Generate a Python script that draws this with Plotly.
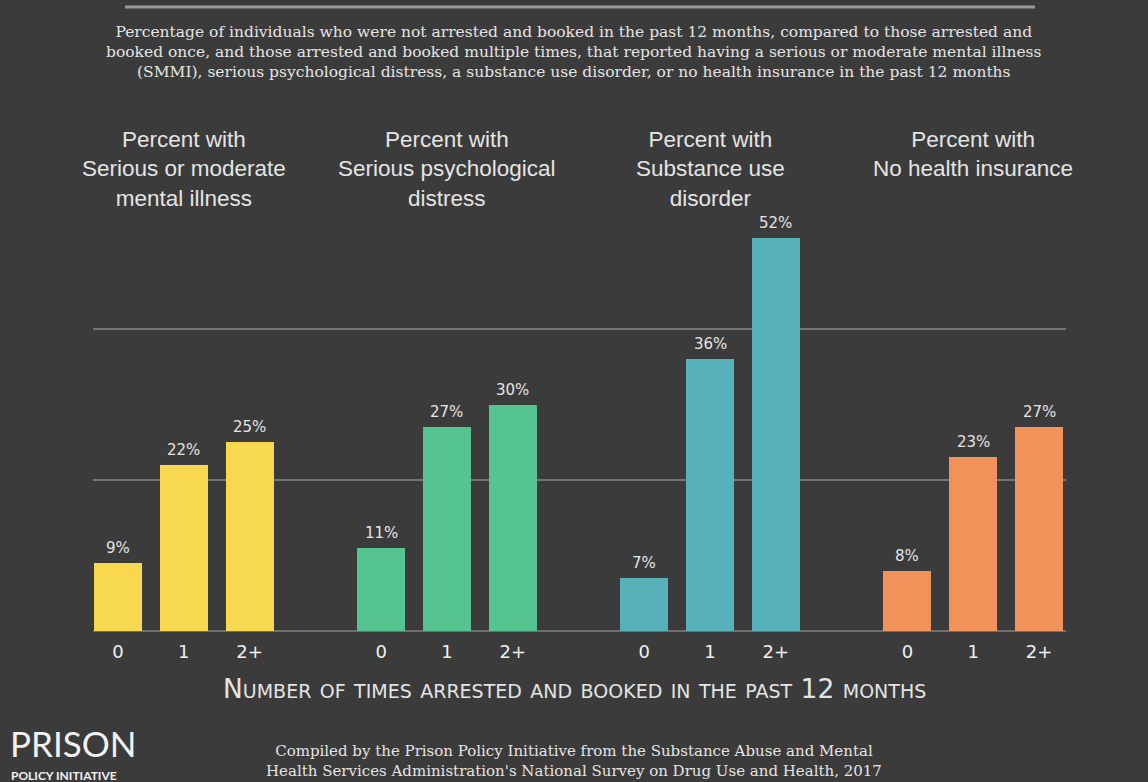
import plotly.graph_objects as go

# Survey measures, arrest counts and shares (percent)
measures = [
    "Percent with<br>Serious or moderate<br>mental illness",
    "Percent with<br>Serious psychological<br>distress",
    "Percent with<br>Substance use<br>disorder",
    "Percent with<br>No health insurance",
]
arrest_counts = ["0", "1", "2+"]
smmi = [9, 22, 25]
distress = [11, 27, 30]
substance = [7, 36, 52]
uninsured = [8, 23, 27]
colors = ["#f8d84f", "#55c490", "#57b1ba", "#f1925a"]

series = [smmi, distress, substance, uninsured]

BG = "#3b3b3b"
TEXT = "#e4e4e4"
W, H = 1148, 782


def py(pixel_y):
    """Paper y for a pixel row measured from the top."""
    return (H - pixel_y) / H


fig = go.Figure()
annotations = []
tickvals, ticktext = [], []

for g, (vals, col, name) in enumerate(zip(series, colors, measures)):
    xs = [4 * g + i for i in range(len(vals))]
    fig.add_trace(go.Bar(
        x=xs, y=vals, width=0.73, marker=dict(color=col, line=dict(width=0)),
        showlegend=False, hoverinfo="skip",
    ))
    for x, v in zip(xs, vals):
        annotations.append(dict(
            x=x, y=v, xref="x", yref="y", text=f"{v}%", showarrow=False,
            yanchor="bottom", yshift=4,
            font=dict(family="DejaVu Sans", size=15, color=TEXT),
        ))
    tickvals += xs
    ticktext += arrest_counts
    annotations.append(dict(
        x=4 * g + 1, y=py(125), xref="x", yref="paper", text=name, showarrow=False,
        yanchor="top", align="center",
        font=dict(family="Liberation Sans", size=22.5, color=TEXT),
    ))

title_text = (
    "Percentage of individuals who were not arrested and booked in the past 12 months, compared to those arrested and<br>"
    "booked once, and those arrested and booked multiple times, that reported having a serious or moderate mental illness<br>"
    "(SMMI), serious psychological distress, a substance use disorder, or no health insurance in the past 12 months"
)
annotations.append(dict(
    x=0.5, y=py(52), xref="paper", yref="paper", text=title_text,
    showarrow=False, yanchor="middle", align="center",
    font=dict(family="DejaVu Serif", size=15.5, color=TEXT),
))

annotations.append(dict(
    x=0.5, y=py(688), xref="paper", yref="paper",
    text="Number of times arrested and booked in the past 12 months",
    showarrow=False, yanchor="middle",
    font=dict(family="DejaVu Sans", size=26.5, color=TEXT, variant="small-caps"),
))

annotations.append(dict(
    x=0.5, y=py(761), xref="paper", yref="paper",
    text=("Compiled by the Prison Policy Initiative from the Substance Abuse and Mental<br>"
          "Health Services Administration's National Survey on Drug Use and Health, 2017"),
    showarrow=False, yanchor="middle", align="center",
    font=dict(family="DejaVu Serif", size=15, color=TEXT),
))

# Publisher mark
annotations.append(dict(
    x=8 / W, y=py(766), xref="paper", yref="paper", text="PRISON",
    showarrow=False, xanchor="left", yanchor="bottom",
    font=dict(family="Lato", size=35, color="#f2f2f2"),
))
annotations.append(dict(
    x=9 / W, y=py(766), xref="paper", yref="paper",
    text="<b>POLICY INITIATIVE</b>",
    showarrow=False, xanchor="left", yanchor="top",
    font=dict(family="Lato", size=12, color="#f2f2f2"),
))

fig.update_layout(
    width=W, height=H,
    margin=dict(l=0, r=0, t=0, b=0),
    paper_bgcolor=BG, plot_bgcolor=BG,
    bargap=0,
    annotations=annotations,
    shapes=[dict(type="line", xref="paper", yref="paper",
                 x0=125 / W, x1=1035 / W, y0=py(7), y1=py(7),
                 line=dict(color="#9a9a9a", width=3))],
    xaxis=dict(
        domain=[93 / W, 1066 / W], range=[-0.38, 14.41],
        tickvals=tickvals, ticktext=ticktext, ticks="",
        ticklabelstandoff=8,
        showgrid=False, zeroline=False, showline=False,
        tickfont=dict(family="DejaVu Sans", size=18, color="#f0f0f0"),
        fixedrange=True,
    ),
    yaxis=dict(
        domain=[py(631), py(178)], range=[0, 60],
        tickvals=[20, 40], showticklabels=False, ticks="",
        showgrid=True, gridcolor="#747474", gridwidth=1.5,
        zeroline=True, zerolinecolor="#6e6e6e", zerolinewidth=1.5,
        showline=False, fixedrange=True,
    ),
)

fig.write_html("out.html")
